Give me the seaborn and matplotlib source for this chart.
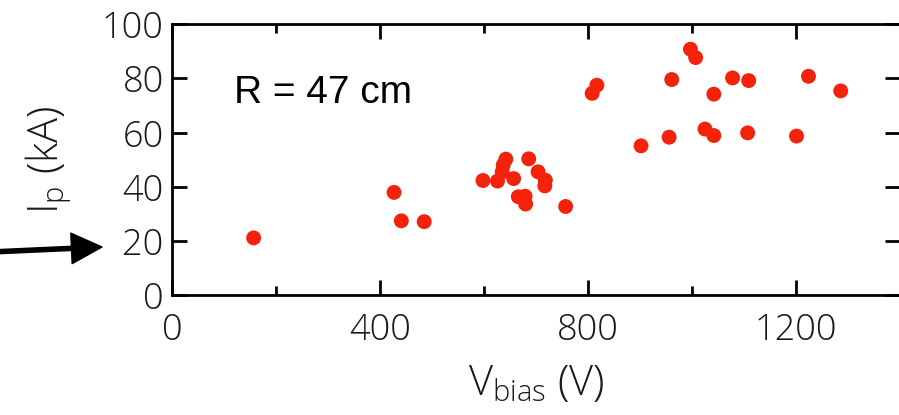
import matplotlib
matplotlib.use("Agg")
import matplotlib.pyplot as plt
import seaborn as sns
import pandas as pd

# data
v_bias = [157, 427, 441, 485, 598, 626, 642, 637, 635, 657, 666, 679, 680, 686,
          704, 718, 717, 757, 808, 817, 902, 956, 961, 997, 1007, 1025, 1042,
          1042, 1078, 1109, 1107, 1201, 1224, 1286]
i_p = [21.1, 37.9, 27.4, 27.1, 42.3, 42.1, 50.2, 48.0, 45.5, 43.0, 36.3, 36.5,
       33.6, 50.3, 45.5, 42.4, 40.3, 32.7, 74.5, 77.5, 55.1, 58.3, 79.6, 90.8,
       87.7, 61.3, 58.9, 74.2, 80.2, 79.2, 59.9, 58.7, 80.8, 75.4]
x_major = [0, 400, 800, 1200]
x_minor = [200, 600, 1000, 1400]
y_major = [0, 20, 40, 60, 80, 100]

df = pd.DataFrame({"V": v_bias, "I": i_p})

sns.set_theme(style="ticks")
plt.rcParams['font.family'] = ['Open Sans', 'DejaVu Sans']
plt.rcParams['mathtext.default'] = 'regular'

fig = plt.figure(figsize=(8.99, 4.15), dpi=100)
ax = fig.add_axes([172 / 899, 120 / 415, 728 / 899, 270.7 / 415])

sns.scatterplot(data=df, x="V", y="I", ax=ax, color="#f4220a", s=115,
                edgecolor="none", legend=False)

ax.set_xlim(0, 1393)
ax.set_ylim(0, 100)
ax.set_xticks(x_major)
ax.set_xticks(x_minor, minor=True)
ax.set_yticks(y_major)
ax.set_xticklabels([str(v) for v in x_major], fontsize=26, fontweight='light')
ax.set_yticklabels([str(v) for v in y_major], fontsize=26, fontweight='light')

for s in ax.spines.values():
    s.set_linewidth(2)
    s.set_color("black")
ax.tick_params(which='major', direction='in', length=11, width=2,
               top=True, right=True, color='black', labelcolor='#1a1a1a')
ax.tick_params(which='minor', direction='in', length=6.5, width=2,
               top=True, right=False, left=False, color='black')
ax.tick_params(axis='x', pad=12)
ax.tick_params(axis='y', pad=6)

ax.set_xlabel("V$_{bias}$ (V)", fontsize=30, fontweight='light', labelpad=10,
              color='#1a1a1a')
ax.set_ylabel("I$_{p}$ (kA)", fontsize=30, fontweight='light', labelpad=20,
              color='#1a1a1a')

ax.text(120, 70.8, "R = 47 cm", fontsize=28, ha='left', va='baseline',
        family='Liberation Sans', color='black')

# arrow on the left pointing at the 20 kA tick label
ax.annotate("", xy=(102 / 899, 1 - 247 / 415), xycoords='figure fraction',
            xytext=(-0.01, 1 - 252 / 415), textcoords='figure fraction',
            arrowprops=dict(facecolor='black', edgecolor='black', width=3,
                            headwidth=22, headlength=22, shrink=0),
            annotation_clip=False)

fig.savefig("out.png", dpi=100)
